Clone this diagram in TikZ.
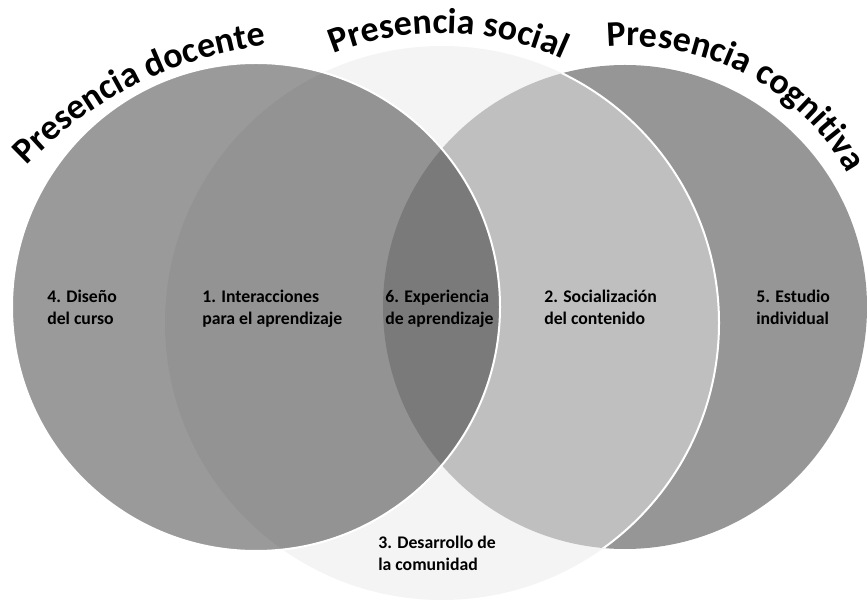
\documentclass[tikz,border=0pt]{standalone}
\usepackage{fontspec}
\setmainfont{Carlito}
\usetikzlibrary{decorations.text}
\definecolor{docgris}{HTML}{9A9A9A}
\definecolor{socgris}{HTML}{F4F4F4}
\definecolor{coggris}{HTML}{969696}
\definecolor{docsoc}{HTML}{939393}
\definecolor{socog}{HTML}{BFBFBF}
\definecolor{triple}{HTML}{7A7A7A}

\begin{document}
\begin{tikzpicture}[x=0.75pt,y=0.75pt]
\tikzset{etiqueta/.style={anchor=base west, align=left, inner sep=0pt,
  font=\bfseries\fontsize{13.3}{16.5}\selectfont}}
\tikzset{borde/.style={draw=white, line width=1.5pt}}
\tikzset{titulo/.style={decorate, decoration={text along path, text align=left,
  text={|\bfseries\fontsize{27}{30}\selectfont|#1}}}}

\useasboundingbox (0,0) rectangle (867,600);

\coordinate (doc) at (256,293);
\coordinate (soc) at (442,277);
\coordinate (cog) at (625,293);

% circulos
\fill[coggris] (cog) circle[radius=242];
\fill[socgris] (soc) circle[radius=277];
\begin{scope}
\clip (cog) circle[radius=242];
\fill[socog] (soc) circle[radius=277];
\end{scope}
\fill[docgris] (doc) circle[radius=244];
\begin{scope}
\clip (soc) circle[radius=277];
\fill[docsoc] (doc) circle[radius=244];
\clip (cog) circle[radius=242];
\fill[triple] (doc) circle[radius=244];
\end{scope}
\begin{scope}
\clip (cog) circle[radius=242];
\draw[borde] (soc) circle[radius=277];
\end{scope}
\draw[borde] (doc) circle[radius=244];

% titulos
\coordinate (tdoc) at (318,153);
\coordinate (tsoc) at (442,277);
\coordinate (tcog) at (629,302);
\path[titulo={Presencia docente}] ([shift={(136:405)}]tdoc) arc[start angle=136, end angle=70, radius=405];
\path[titulo={Presencia social}] ([shift={(112:290)}]tsoc) arc[start angle=112, end angle=40, radius=290];
\path[titulo={Presencia cognitiva}] ([shift={(95:252)}]tcog) arc[start angle=95, end angle=0, radius=252];

% etiquetas
\node[etiqueta](n4)at(47,275){4. Diseño\\del curso};
\node[etiqueta](n1)at(202,275){1. Interacciones\\para el aprendizaje};
\node[etiqueta](n6)at(385,275){6. Experiencia\\de aprendizaje};
\node[etiqueta](n2)at(544,275){2. Socialización\\del contenido};
\node[etiqueta](n5)at(756,275){5. Estudio\\individual};
\node[etiqueta](n3)at(378,30){3. Desarrollo de\\la comunidad};
\end{tikzpicture}
\end{document}
